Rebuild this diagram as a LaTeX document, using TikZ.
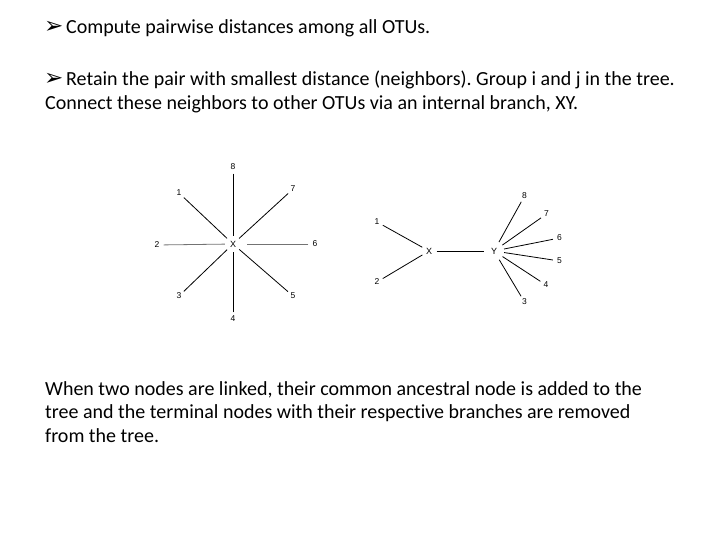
\documentclass[tikz,border=0pt]{standalone}
\usepackage{fontspec}
\setmainfont{Carlito}[Ligatures={NoCommon}]
\newfontfamily\lblfont{Liberation Sans}
\newfontfamily\symfont{DejaVu Sans}
\frenchspacing
\newcommand{\bul}{\makebox[21pt][l]{\hspace{-1pt}\symfont\bfseries\fontsize{23}{24}\selectfont ➢}}
\begin{document}
\begin{tikzpicture}[x=1pt,y=-1pt,
  txt/.style={anchor=base west,inner sep=0pt,font=\fontsize{20}{24}\selectfont},
  lbl/.style={circle,inner sep=0pt,minimum size=13pt,font=\lblfont\fontsize{8.5}{9}\selectfont},
  ctr/.style={circle,inner sep=0pt,minimum size=16pt,font=\lblfont\fontsize{9}{9}\selectfont},
  br/.style={line width=0.8pt,black},
  hbr/.style={line width=0.8pt,black!55}]
\useasboundingbox (0,0) rectangle (720,540);
% texts
\node[txt] (t1) at (45,34) {\bul Compute pairwise distances among all OTUs.};
\node[txt] (t2) at (45,86) {\bul Retain the pair with smallest distance (neighbors). Group i and j in the tree.};
\node[txt] (t3) at (45,109.5) {Connect these neighbors to other OTUs via an internal branch, XY.};
\node[txt] (t4) at (45,395) {When two nodes are linked, their common ancestral node is added to the};
\node[txt] (t5) at (45,418.5) {tree and the terminal nodes with their respective branches are removed};
\node[txt] (t6) at (45,442) {from the tree.};
% star tree
\node[ctr] (sX) at (233,244) {X};
\node[lbl] (s8) at (233,167) {8};
\node[lbl] (s1) at (179,193) {1};
\node[lbl] (s7) at (293,189) {7};
\node[lbl] (s2) at (157,245) {2};
\node[lbl] (s6) at (315,244) {6};
\node[lbl] (s3) at (179,296) {3};
\node[lbl] (s5) at (293,296) {5};
\node[lbl] (s4) at (233,319) {4};
\draw[br] (s8) -- (sX);
\draw[br] (s4) -- (sX);
\draw[br] (s1) -- (sX);
\draw[br] (s7) -- (sX);
\draw[br] (s3) -- (sX);
\draw[br] (s5) -- (sX);
\draw[hbr] (s2) -- (sX);
\draw[hbr,shorten >=6pt] (s6) -- (sX);
% neighbour tree
\node[lbl] (n1) at (377,222) {1};
\node[lbl] (n2) at (377,282) {2};
\node[ctr,minimum size=15pt] (nX) at (429,251) {X};
\node[ctr,minimum size=20pt] (nY) at (494,251) {Y};
\node[lbl] (n8) at (524.5,196) {8};
\node[lbl] (n7) at (546.5,214) {7};
\node[lbl] (n6) at (559.5,238) {6};
\node[lbl] (n5) at (559.5,261) {5};
\node[lbl] (n4) at (546,285) {4};
\node[lbl] (n3) at (524.5,302) {3};
\draw[br] (n1) -- (nX);
\draw[br] (n2) -- (nX);
\draw[br] (nX) -- (nY);
\foreach \k in {8,7,6,5,4,3} {\draw[br] (n\k) -- (nY);}
\end{tikzpicture}
\end{document}
